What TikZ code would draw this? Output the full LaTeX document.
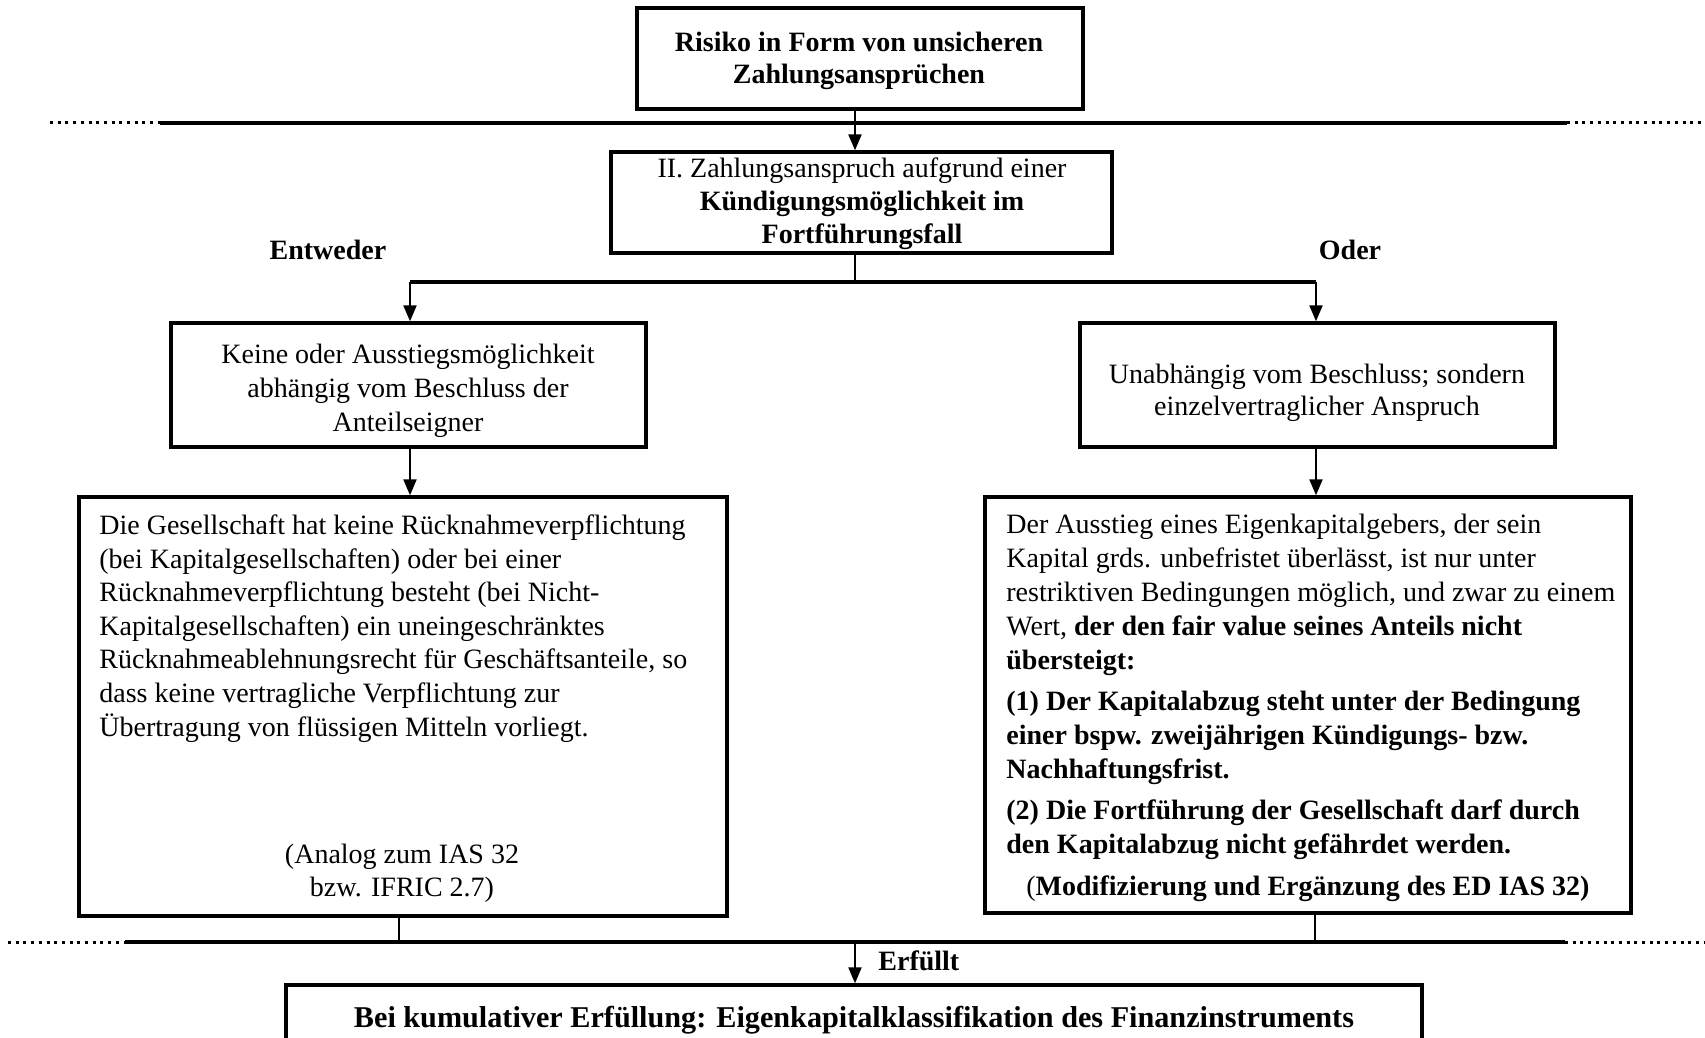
\documentclass[tikz,border=0pt]{standalone}
\usepackage{fontspec}
\setmainfont{Liberation Serif}
\usetikzlibrary{arrows.meta}

\begin{document}
\begin{tikzpicture}[x=0.5pt,y=-0.5pt,
  box/.style={draw, line width=1.7pt, rectangle, inner sep=0pt},
  txt/.style={inner sep=0pt, font=\fontsize{14pt}{17pt}\selectfont},
  link/.style={line width=1.1pt},
  arr/.style={line width=1.1pt, -{Triangle[length=8pt,width=6.5pt]}},
  rulebar/.style={line width=2pt},
  dotbar/.style={line width=1.5pt, dash pattern=on 1.5pt off 2.35pt},
  branchbar/.style={line width=1.7pt}]

\useasboundingbox (0,0) rectangle (1705,1038);
\clip (0,0) rectangle (1705,1038);

% boxes
\node[box, minimum width=223pt, minimum height=50.5pt] (top) at (860,58.5) {};
\node[box, minimum width=250.5pt, minimum height=50.5pt] (mid) at (861.5,202.5) {};
\node[box, minimum width=237.5pt, minimum height=62pt] (left2) at (408.5,385) {};
\node[box, minimum width=237.5pt, minimum height=62pt] (right2) at (1317.5,385) {};
\node[box, minimum width=324pt, minimum height=209.5pt] (left3) at (403,706.5) {};
\node[box, minimum width=323pt, minimum height=208pt] (right3) at (1308,705) {};
\node[box, minimum width=568pt, minimum height=37.5pt] (final) at (854,1022.5) {};

% separating rules
\coordinate (t0) at (50,123);
\coordinate (t1) at (160,123);
\coordinate (t2) at (1567,123);
\coordinate (t3) at (1705,123);
\draw[dotbar] (t0) -- (t1);
\draw[rulebar] (t1) -- (t2);
\draw[dotbar] (t2) -- (t3);

\coordinate (b0) at (8,942);
\coordinate (b1) at (125,942);
\coordinate (b2) at (1565,942);
\coordinate (b3) at (1705,942);
\draw[dotbar] (b0) -- (b1);
\draw[rulebar] (b1) -- (b2);
\draw[dotbar] (b2) -- (b3);

% connectors
\coordinate (spine) at (855,0);
\coordinate (bl) at (410,282);
\coordinate (br) at (1316,282);
\coordinate (jl) at (399,942);
\coordinate (jr) at (1315,942);

\draw[arr] (top.south -| spine) -- (mid.north -| spine);
\draw[link] (mid.south -| spine) -- (spine |- bl);
\draw[branchbar] (bl) -- (br);
\draw[arr] (bl) -- (left2.north -| bl);
\draw[arr] (br) -- (right2.north -| br);
\draw[arr] (left2.south -| bl) -- (left3.north -| bl);
\draw[arr] (right2.south -| br) -- (right3.north -| br);
\draw[link] (left3.south -| jl) -- (jl);
\draw[link] (right3.south -| jr) -- (jr);
\draw[arr] (spine |- jl) -- (final.north -| spine);

% texts (multi-line nodes are placed by the baseline of their last line)
\node[txt, font=\fontsize{14pt}{16pt}\selectfont\bfseries, align=center, anchor=base] (toptxt) at (859,84)
  {Risiko in Form von unsicheren\\Zahlungsansprüchen};
\node[txt, font=\fontsize{14pt}{16.25pt}\selectfont, align=center, anchor=base] (midtxt) at (862,243)
  {II. Zahlungsanspruch aufgrund einer\\\textbf{Kündigungsmöglichkeit im}\\\textbf{Fortführungsfall}};
\node[txt, font=\fontsize{14pt}{17pt}\selectfont\bfseries, anchor=base] (either) at (328,260) {Entweder};
\node[txt, font=\fontsize{14pt}{17pt}\selectfont\bfseries, anchor=base] (orlabel) at (1350,260) {Oder};

\node[txt, align=center, anchor=base] (left2txt) at (408,431)
  {Keine oder Ausstiegsmöglichkeit\\abhängig vom Beschluss der\\Anteilseigner};
\node[txt, font=\fontsize{14pt}{16pt}\selectfont, align=center, anchor=base] (right2txt) at (1317,415)
  {Unabhängig vom Beschluss; sondern\\einzelvertraglicher Anspruch};

\node[txt, font=\fontsize{14pt}{16.8pt}\selectfont, align=left, anchor=base west] (left3txt) at (99,736)
  {Die Gesellschaft hat keine Rücknahmeverpflichtung\\
   (bei Kapitalgesellschaften) oder bei einer\\
   Rücknahmeverpflichtung besteht (bei Nicht-\\
   Kapitalgesellschaften) ein uneingeschränktes\\
   Rücknahmeablehnungsrecht für Geschäftsanteile, so\\
   dass keine vertragliche Verpflichtung zur\\
   Übertragung von flüssigen Mitteln vorliegt.};
\node[txt, font=\fontsize{14pt}{16.5pt}\selectfont, align=center, anchor=base] (left3note) at (402,896)
  {(Analog zum IAS 32\\bzw. IFRIC 2.7)};

\node[txt, align=left, anchor=base west] (right3txt) at (1006,853)
  {Der Ausstieg eines Eigenkapitalgebers, der sein\\
   Kapital grds. unbefristet überlässt, ist nur unter\\
   restriktiven Bedingungen möglich, und zwar zu einem\\
   Wert, \textbf{der den fair value seines Anteils nicht}\\
   \textbf{übersteigt:}\\[3.5pt]
   \textbf{(1) Der Kapitalabzug steht unter der Bedingung}\\
   \textbf{einer bspw. zweijährigen Kündigungs- bzw.}\\
   \textbf{Nachhaftungsfrist.}\\[3.5pt]
   \textbf{(2) Die Fortführung der Gesellschaft darf durch}\\
   \textbf{den Kapitalabzug nicht gefährdet werden.}};
\node[txt, anchor=base] (right3note) at (1308,895)
  {(\textbf{Modifizierung und Ergänzung des ED IAS 32)}};

\node[txt, font=\fontsize{14pt}{17pt}\selectfont\bfseries, anchor=base west] (fulfilled) at (878,970) {Erfüllt};
\node[txt, font=\fontsize{15.1pt}{18pt}\selectfont\bfseries, anchor=base] (finaltxt) at (854,1027)
  {Bei kumulativer Erfüllung: Eigenkapitalklassifikation des Finanzinstruments};

\end{tikzpicture}
\end{document}
